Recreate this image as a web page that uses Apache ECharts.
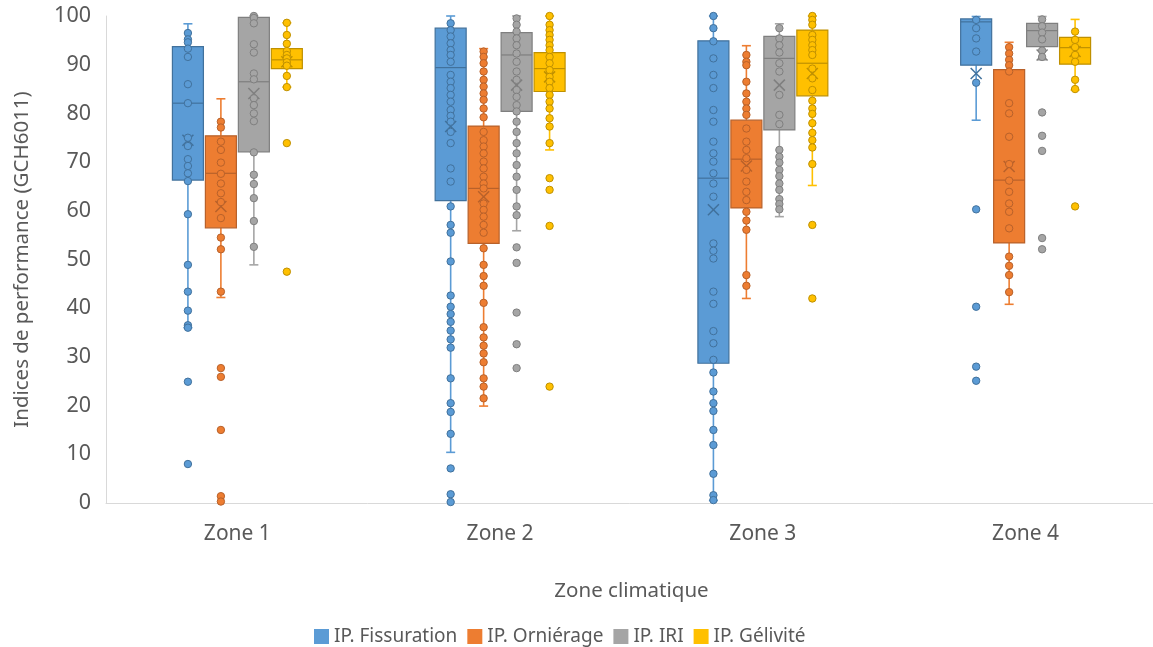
<!DOCTYPE html>
<html>
<head>
<meta charset="utf-8">
<script src="https://cdn.jsdelivr.net/npm/echarts@6/dist/echarts.min.js"></script>
<style>html,body{margin:0;padding:0;background:#fff}#c{width:1153px;height:647px}</style>
</head>
<body>
<div id="c"></div>
<script>
const categories = ['Zone 1', 'Zone 2', 'Zone 3', 'Zone 4'];
const seriesNames = ['IP. Fissuration', 'IP. Orniérage', 'IP. IRI', 'IP. Gélivité'];
const yAxisTitle = 'Indices de performance (GCH6011)';
const xAxisTitle = 'Zone climatique';

// box stats per zone: [whisker low, Q1, median, Q3, whisker high]
const fissurationBox = [[36.0, 66.3, 82.1, 93.7, 98.4], [10.4, 62.1, 89.4, 97.5, 100], [0.5, 28.7, 66.7, 94.9, 100], [78.6, 89.9, 98.8, 99.4, 99.9]];
const fissurationMean = [74.5, 77.3, 60.2, 88.2];
const fissurationPoints = [
  [96.5, 95.2, 94.6, 93.3, 91.6, 86.0, 82.1, 75.0, 73.3, 70.6, 69.2, 67.7, 66.1, 59.3, 48.9, 43.4, 39.5, 36.5, 36.0, 24.9, 8.0],
  [98.5, 97.1, 95.8, 94.4, 93.0, 92.0, 90.6, 87.9, 86.5, 85.2, 83.8, 82.4, 80.7, 79.5, 78.3, 76.2, 73.9, 68.7, 66.0, 60.9, 57.1, 55.5, 49.6, 42.6, 40.3, 38.8, 37.2, 35.4, 33.6, 31.9, 25.6, 20.5, 18.7, 14.2, 7.1, 1.8, 0.2],
  [100, 97.5, 94.8, 91.3, 87.9, 85.2, 80.7, 78.3, 74.2, 71.8, 70.1, 67.7, 65.6, 62.9, 53.3, 51.8, 50.2, 43.4, 40.9, 35.3, 32.8, 29.4, 26.8, 22.9, 20.5, 18.9, 15.0, 11.9, 6.0, 1.6, 0.6],
  [99.2, 97.5, 95.4, 92.7, 86.3, 60.3, 40.3, 28.0, 25.1]
];

const ornierageBox = [[42.2, 56.5, 67.7, 75.4, 83.0], [19.9, 53.3, 64.6, 77.4, 93.3], [42.0, 60.6, 70.6, 78.6, 93.9], [40.8, 53.4, 66.3, 89.0, 94.6]];
const ornierageMean = [60.9, 62.9, 69.2, 69.1];
const ornieragePoints = [
  [78.3, 77.1, 74.2, 72.5, 69.9, 67.6, 65.6, 63.6, 61.8, 58.5, 54.5, 52.1, 43.4, 27.7, 25.9, 15.0, 1.4, 0.3],
  [92.7, 91.6, 90.3, 88.6, 86.9, 85.5, 84.1, 82.8, 81.0, 79.2, 76.2, 74.5, 73.2, 71.8, 70.1, 68.7, 67.0, 65.6, 64.6, 61.5, 60.2, 58.8, 57.1, 55.5, 52.3, 48.9, 46.6, 44.6, 41.1, 36.1, 34.0, 32.3, 30.7, 28.9, 25.6, 23.9, 21.5],
  [92.0, 90.6, 89.9, 86.5, 84.1, 82.4, 81.0, 79.7, 76.9, 74.2, 72.5, 70.8, 68.4, 66.0, 63.9, 62.2, 59.8, 58.0, 56.1, 46.8, 44.6],
  [93.6, 92.3, 91.0, 89.9, 88.6, 82.1, 80.0, 75.2, 69.6, 66.2, 63.9, 61.5, 59.8, 56.4, 50.6, 48.7, 46.8, 43.3]
];

const iriBox = [[48.9, 72.1, 86.5, 99.7, 100], [55.9, 80.4, 92.0, 96.6, 100], [58.8, 76.6, 91.3, 95.8, 98.4], [91.0, 93.7, 97.0, 98.5, 99.9]];
const iriMean = [84.1, 85.8, 85.8, 92.0];
const iriPoints = [
  [100, 99.6, 98.5, 94.2, 92.5, 88.2, 87.0, 83.1, 81.7, 80.0, 78.4, 72.0, 67.4, 65.5, 62.6, 57.9, 52.6],
  [99.5, 98.2, 96.8, 95.4, 94.0, 92.3, 90.6, 88.6, 86.9, 84.8, 83.4, 81.7, 80.4, 78.3, 76.2, 73.9, 71.8, 69.4, 67.0, 64.3, 60.9, 59.1, 52.5, 49.3, 39.1, 32.6, 27.7],
  [97.5, 95.4, 94.0, 92.5, 90.3, 88.6, 83.8, 79.7, 77.8, 72.5, 71.1, 69.9, 68.4, 67.1, 65.6, 64.3, 62.4, 61.4, 60.3],
  [99.3, 97.9, 96.6, 95.2, 92.9, 91.6, 80.2, 75.4, 72.3, 54.4, 52.1]
];

const geliviteBox = [[85.4, 89.2, 91.0, 93.3, 98.6], [72.5, 84.5, 89.2, 92.5, 100], [65.2, 83.6, 90.3, 97.1, 100], [84.8, 90.1, 93.5, 95.6, 99.3]];
const geliviteMean = [90.6, 87.5, 88.2, 92.7];
const gelivitePoints = [
  [98.6, 96.1, 94.3, 92.8, 92.0, 91.3, 90.5, 89.8, 87.7, 85.4, 73.9, 47.5],
  [100, 98.2, 97.1, 96.1, 95.1, 94.0, 93.0, 91.6, 90.3, 88.9, 87.5, 86.5, 85.2, 83.8, 82.4, 81.0, 79.0, 77.3, 73.9, 66.7, 64.3, 56.9, 23.9],
  [100, 99.2, 98.2, 96.1, 95.1, 94.0, 93.0, 92.0, 89.2, 87.2, 84.8, 82.6, 81.0, 79.9, 78.0, 76.0, 74.5, 73.0, 69.6, 57.1, 42.0],
  [96.8, 95.1, 93.6, 92.0, 90.6, 86.9, 85.0, 60.9]
];

const fills = ['#5B9BD5', '#ED7D31', '#A5A5A5', '#FFC000'];
const borders = ['#41719C', '#B8612A', '#7F7F7F', '#BF9000'];

const boxes = [fissurationBox, ornierageBox, iriBox, geliviteBox];
const means = [fissurationMean, ornierageMean, iriMean, geliviteMean];
const pointSets = [fissurationPoints, ornieragePoints, iriPoints, gelivitePoints];

const TEXT = '#595959';
const FONT = 'Noto Sans';

function boxCenter(api, zi, k) {
  const band = api.size([1, 0])[0];
  return { cx: api.coord([zi, 0])[0] + (k - 1.5) * band * 0.1255, band: band };
}

function makeBoxRenderer(k) {
  return function (params, api) {
    const zi = api.value(0);
    const b = boxCenter(api, zi, k);
    const cx = b.cx, w = b.band * 0.118;
    const Y = i => api.coord([zi, api.value(i)])[1];
    const yLow = Y(1), yQ1 = Y(2), yMed = Y(3), yQ3 = Y(4), yHigh = Y(5), yMean = Y(6);
    const cap = 4.5, xs = 5.5;
    const ls = { stroke: fills[k], lineWidth: 1.6 };
    const ds = { stroke: borders[k], lineWidth: 1.2 };
    return {
      type: 'group',
      children: [
        { type: 'line', shape: { x1: cx, y1: yHigh, x2: cx, y2: yQ3 }, style: ls },
        { type: 'line', shape: { x1: cx, y1: yQ1, x2: cx, y2: yLow }, style: ls },
        { type: 'line', shape: { x1: cx - cap, y1: yHigh, x2: cx + cap, y2: yHigh }, style: ls },
        { type: 'line', shape: { x1: cx - cap, y1: yLow, x2: cx + cap, y2: yLow }, style: ls },
        { type: 'rect', shape: { x: cx - w / 2, y: yQ3, width: w, height: yQ1 - yQ3 }, style: { fill: fills[k], stroke: borders[k], lineWidth: 1.2 } },
        { type: 'line', shape: { x1: cx - w / 2, y1: yMed, x2: cx + w / 2, y2: yMed }, style: ds },
        { type: 'line', shape: { x1: cx - xs, y1: yMean - xs, x2: cx + xs, y2: yMean + xs }, style: { stroke: borders[k], lineWidth: 1.5 } },
        { type: 'line', shape: { x1: cx - xs, y1: yMean + xs, x2: cx + xs, y2: yMean - xs }, style: { stroke: borders[k], lineWidth: 1.5 } }
      ]
    };
  };
}

function makePointRenderer(k) {
  return function (params, api) {
    const zi = api.value(0);
    const b = boxCenter(api, zi, k);
    const y = api.coord([zi, api.value(1)])[1];
    return {
      type: 'circle',
      shape: { cx: b.cx, cy: y, r: 3.7 },
      style: { fill: fills[k], stroke: borders[k], lineWidth: 1 }
    };
  };
}

const series = [];
for (let k = 0; k < 4; k++) {
  const boxData = boxes[k].map((s, zi) => [zi].concat(s).concat([means[k][zi]]));
  series.push({
    type: 'custom', name: seriesNames[k], z: 2,
    itemStyle: { color: fills[k] },
    renderItem: makeBoxRenderer(k),
    encode: { x: 0, y: [1, 2, 3, 4, 5, 6] },
    data: boxData
  });
}
for (let k = 0; k < 4; k++) {
  const ptData = [];
  pointSets[k].forEach((arr, zi) => arr.forEach(v => ptData.push([zi, v])));
  series.push({
    type: 'custom', name: seriesNames[k], z: 3,
    itemStyle: { color: fills[k] },
    renderItem: makePointRenderer(k),
    encode: { x: 0, y: 1 },
    data: ptData
  });
}

const chart = echarts.init(document.getElementById('c'), null, { renderer: 'canvas' });
chart.setOption({
  animation: false,
  backgroundColor: '#fff',
  textStyle: { fontFamily: FONT },
  grid: { left: 106, right: -4, top: 16, bottom: 144, containLabel: false, outerBoundsMode: 'none' },
  legend: {
    data: seriesNames.map((n, k) => ({ name: n, icon: 'rect', itemStyle: { color: fills[k] } })),
    left: 314, top: 627, padding: 0, itemWidth: 15, itemHeight: 15, itemGap: 10,
    textStyle: { color: TEXT, fontSize: 19, fontFamily: FONT }
  },
  xAxis: {
    type: 'category', data: categories,
    name: xAxisTitle, nameLocation: 'middle', nameGap: 78,
    nameTextStyle: { color: TEXT, fontSize: 20.5, fontFamily: FONT },
    axisLine: { show: true, lineStyle: { color: '#D9D9D9', width: 1 } },
    axisTick: { show: false },
    axisLabel: { color: TEXT, fontSize: 21, fontFamily: FONT, margin: 21 },
    splitLine: { show: false }
  },
  yAxis: {
    type: 'value', min: 0, max: 100, interval: 10,
    name: yAxisTitle, nameLocation: 'middle', nameGap: 73,
    nameTextStyle: { color: TEXT, fontSize: 20.5, fontFamily: FONT },
    axisLine: { show: true, lineStyle: { color: '#D9D9D9', width: 1 } },
    axisTick: { show: false },
    axisLabel: { color: TEXT, fontSize: 21.5, fontFamily: FONT, margin: 15 },
    splitLine: { show: false }
  },
  series: series
});
</script>
</body>
</html>
